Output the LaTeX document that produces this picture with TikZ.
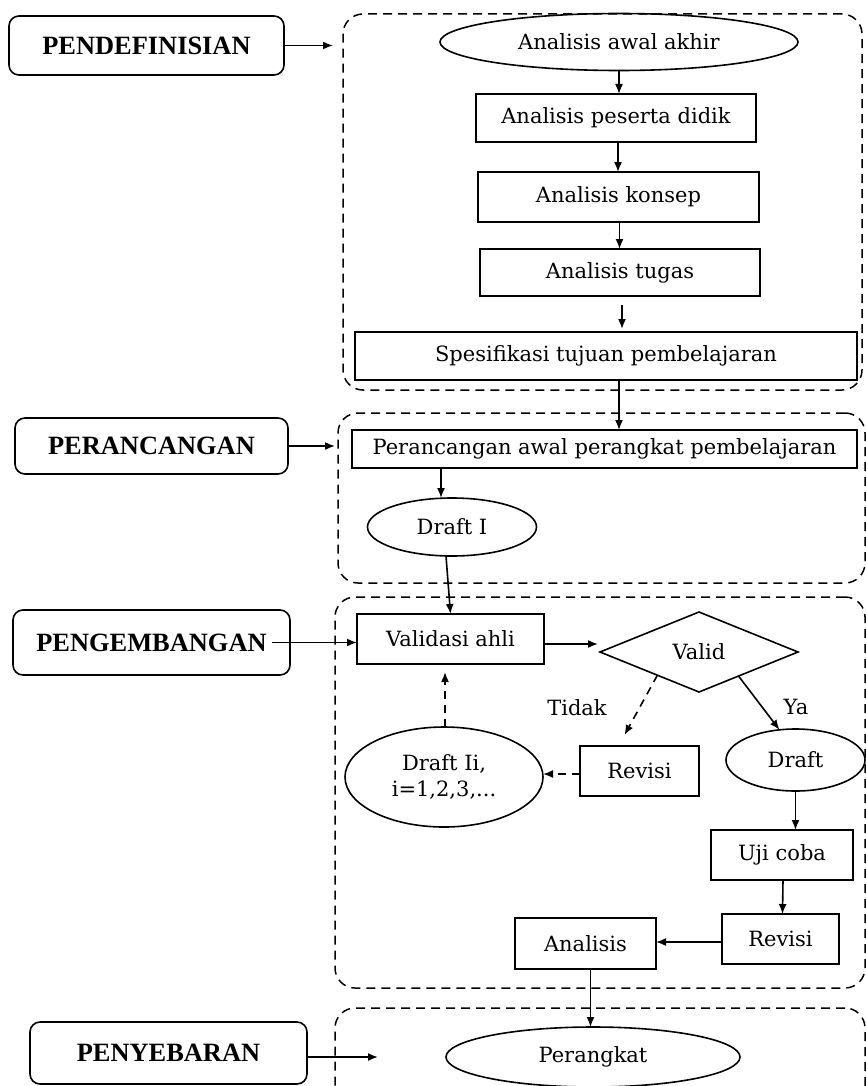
\documentclass[tikz,border=0pt]{standalone}
\usepackage{fontspec}
\setmainfont{DejaVu Serif}
\newfontfamily\labfont{Liberation Serif}
\usetikzlibrary{shapes.geometric,arrows.meta}
\begin{document}
\begin{tikzpicture}[x=0.5pt,y=-0.5pt,
  every node/.style={font=\fontsize{10.5}{13}\selectfont, inner sep=0pt, outer sep=0pt},
  box/.style={draw, line width=0.8pt, rectangle},
  oval/.style={draw, line width=0.8pt, ellipse},
  stage/.style={draw, line width=0.8pt, rounded corners=5pt, font=\labfont\bfseries\fontsize{13.2}{15}\selectfont},
  group/.style={draw, line width=0.75pt, rounded corners=10pt, dash pattern=on 4.5pt off 3pt},
  arr/.style={-{Latex[length=5pt,width=4pt]}, line width=0.8pt},
  darr/.style={arr, dash pattern=on 4pt off 3pt},
  lbl/.style={font=\fontsize{10.5}{13}\selectfont}
]
\useasboundingbox (0,0) rectangle (866,1086);

% dashed stage groups
\node[group, minimum width=259.5pt, minimum height=188pt] (g1) at (602.5,202) {};
\node[group, minimum width=263.5pt, minimum height=85pt] (g2) at (601.5,498) {};
\node[group, minimum width=265pt, minimum height=195.5pt] (g3) at (600,792.5) {};
\node[group, minimum width=265pt, minimum height=51pt] (g4) at (600,1059) {};

% stage labels
\node[stage, minimum width=137.5pt, minimum height=29.5pt] (s1) at (146.5,45.5) {PENDEFINISIAN};
\node[stage, minimum width=136.5pt, minimum height=28pt] (s2) at (151.5,446) {PERANCANGAN};
\node[stage, minimum width=138.5pt, minimum height=32.5pt] (s3) at (151.5,642.5) {PENGEMBANGAN};
\node[stage, minimum width=138.5pt, minimum height=31pt] (s4) at (168.5,1053) {PENYEBARAN};

% define stage
\node[oval, minimum width=179pt, minimum height=28.5pt] (a1) at (619,42) {Analisis awal akhir};
\node[box, minimum width=140pt, minimum height=24pt] (a2) at (616,118) {Analisis peserta didik};
\node[box, minimum width=140.5pt, minimum height=25pt] (a3) at (618.5,197) {Analisis konsep};
\node[box, minimum width=140pt, minimum height=23.5pt] (a4) at (620,272.5) {Analisis tugas};
\node[box, minimum width=251pt, minimum height=24pt] (a5) at (606,356) {Spesifikasi tujuan pembelajaran};

% design stage
\node[box, minimum width=252.5pt, minimum height=19pt] (b1) at (604.5,449) {Perancangan awal perangkat pembelajaran};
\node[oval, minimum width=84.5pt, minimum height=29pt] (b2) at (452,527) {Draft I};

% develop stage
\node[box, minimum width=93.5pt, minimum height=25pt] (c1) at (450.5,639) {Validasi ahli};
\node[diamond, draw, line width=0.8pt, aspect=2.475, minimum width=99pt, minimum height=40pt] (c2) at (699,652) {Valid};
\node[box, minimum width=59.5pt, minimum height=25pt] (c3) at (639.5,771) {Revisi};
\node[oval, minimum width=99pt, minimum height=50pt, align=center] (c4) at (444,777) {Draft Ii,\\i=1,2,3,...};
\node[oval, minimum width=69.5pt, minimum height=31pt] (c5) at (795.5,760) {Draft};
\node[box, minimum width=71pt, minimum height=25pt] (c6) at (782,855) {Uji coba};
\node[box, minimum width=58.5pt, minimum height=25pt] (c7) at (780.5,939) {Revisi};
\node[box, minimum width=70.5pt, minimum height=25.5pt] (c8) at (585.5,943.5) {Analisis};
\node[lbl] (tidak) at (577,708) {Tidak};
\node[lbl] (ya) at (796,707) {Ya};

% disseminate stage
\node[oval, minimum width=147pt, minimum height=30pt] (d1) at (593,1057) {Perangkat};

% stage arrows
\draw[arr, shorten >=5pt] (s1.east) -- (s1.east -| g1.west);
\draw[arr, shorten >=1.5pt] (s2.east) -- (s2.east -| g2.west);
\draw[arr] ([xshift=-9pt]s3.east) -- (c1.west |- s3.east);
\coordinate (p4) at (378,1057);
\draw[arr] (s4.east |- p4) -- (p4);

% flow arrows
\draw[arr] (a1.south) -- (a1.south |- a2.north);
\draw[arr] ([xshift=1pt]a2.south) -- ([xshift=1pt]a2.south |- a3.north);
\draw[arr] ([xshift=0.5pt]a3.south) -- ([xshift=0.5pt]a3.south |- a4.north);
\draw[arr, shorten <=4.5pt, shorten >=1.5pt] ([xshift=1pt]a4.south) -- ([xshift=1pt]a4.south |- a5.north);
\draw[arr] ([xshift=6.5pt]a5.south) -- ([xshift=6.5pt]a5.south |- b1.north);
\draw[arr] ([xshift=-5.5pt]b2.north |- b1.south) -- ([xshift=-5.5pt]b2.north);
\draw[arr] ([xshift=-3pt]b2.south) -- (c1.north);
\draw[arr, shorten >=1pt] ([yshift=-2.5pt]c1.east) -- ([yshift=-2.5pt]c1.east -| c2.west);
\draw[darr] ([xshift=4pt,yshift=-1.5pt]c2.south west) -- ([xshift=-7.5pt,yshift=5.5pt]c3.north);
\draw[arr] ([xshift=-5pt,yshift=-2pt]c2.south east) -- (c5.118);
\draw[darr] ([yshift=-1.5pt]c3.west) -- ([yshift=-1.5pt]c3.west -| c4.east);
\draw[darr, shorten >=4pt] ([xshift=0.5pt]c4.north) -- ([xshift=0.5pt]c4.north |- c1.south);
\draw[arr] (c5.south) -- (c5.south |- c6.north);
\draw[arr] ([xshift=0.5pt]c6.south) -- ([xshift=1pt]c7.north);
\draw[arr] ([yshift=-1.5pt]c7.west) -- ([yshift=-1.5pt]c7.west -| c8.east);
\draw[arr] ([xshift=2.5pt]c8.south) -- ([xshift=2.5pt]c8.south |- d1.north);
\end{tikzpicture}
\end{document}
